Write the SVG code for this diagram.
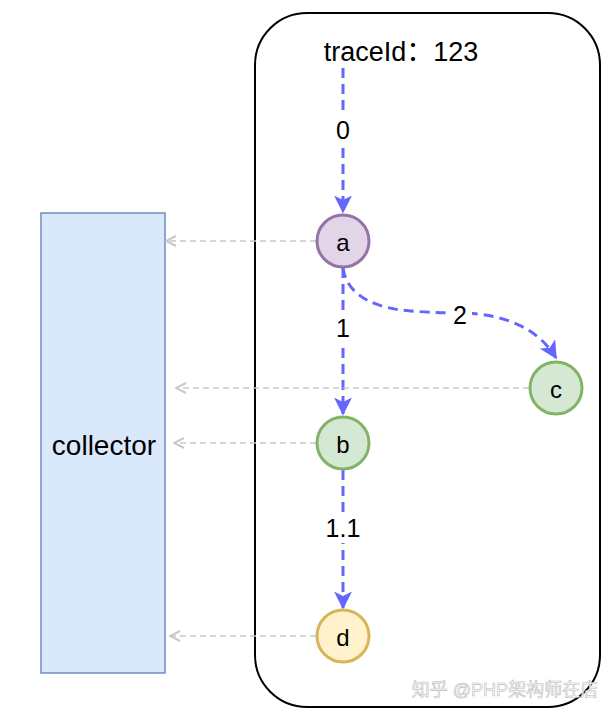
<svg xmlns="http://www.w3.org/2000/svg" width="608" height="716" viewBox="0 0 608 716">
<style>
text{font-family:"Liberation Sans","Noto Sans CJK SC",Arial,sans-serif;fill:#000;text-anchor:middle;dominant-baseline:central}
.node{stroke-width:3}
.blue{fill:none;stroke:#6666ff;stroke-width:3;stroke-dasharray:10 6;marker-end:url(#ba)}
.grey{fill:none;stroke:#c8c8c8;stroke-width:1.5;stroke-dasharray:6 4;marker-end:url(#ga)}
.lbl{font-size:25px}
.bg{fill:#fff}
</style>
<defs>
<marker id="ba" viewBox="0 0 12 12" refX="11" refY="6" markerWidth="6" markerHeight="6" orient="auto" markerUnits="strokeWidth">
<path d="M0,0 L12,6 L0,12 L3,6 Z" fill="#6666ff"/>
</marker>
<marker id="ga" viewBox="0 0 12 12" refX="11" refY="6" markerWidth="8" markerHeight="8" orient="auto" markerUnits="strokeWidth">
<path d="M1,1 L11,6 L1,11" fill="none" stroke="#c8c8c8" stroke-width="2"/>
</marker>
</defs>
<rect width="608" height="716" fill="#fff"/>
<g id="container">
<rect x="255" y="13" width="345" height="694" rx="52" ry="52" fill="#fff" stroke="#000" stroke-width="2"/>
</g>
<g id="collector">
<rect x="41" y="213" width="124" height="460" fill="#dae8fc" stroke="#6c8ebf" stroke-width="1.5"/>
<text x="104" y="445" font-size="28">collector</text>
</g>
<g id="traceId">
<text x="401" y="52" font-size="27">traceId：123</text>
</g>
<g id="connectors">
<path class="blue" d="M343,68 L343,212"/>
<path class="blue" d="M343,268 L343,414"/>
<path class="blue" d="M343,268 Q348,302 400,310 Q430,313 462,313 Q530,315 556,358"/>
<path class="blue" d="M343,470 L343,608"/>
<path class="grey" d="M316,241 L166,241"/>
<path class="grey" d="M529,388 L176,388"/>
<path class="grey" d="M316,443 L174,443"/>
<path class="grey" d="M316,636 L170,636"/>
<rect class="bg" x="332" y="115" width="22" height="30"/>
<text class="lbl" x="343" y="130">0</text>
<rect class="bg" x="332" y="313" width="22" height="30"/>
<text class="lbl" x="343" y="328">1</text>
<rect class="bg" x="448" y="300" width="24" height="30"/>
<text class="lbl" x="460" y="315">2</text>
<rect class="bg" x="322" y="513" width="42" height="30"/>
<text class="lbl" x="343" y="528">1.1</text>
</g>
<g id="a">
<circle class="node" cx="343" cy="241" r="26" fill="#e1d5e7" stroke="#9673a6"/>
<text x="343" y="242" font-size="24">a</text>
</g>
<g id="b">
<circle class="node" cx="343" cy="443" r="26" fill="#d5e8d4" stroke="#82b366"/>
<text x="343" y="444" font-size="24">b</text>
</g>
<g id="c">
<circle class="node" cx="556" cy="388" r="26" fill="#d5e8d4" stroke="#82b366"/>
<text x="556" y="389" font-size="24">c</text>
</g>
<g id="d">
<circle class="node" cx="343" cy="636" r="26" fill="#fff2cc" stroke="#d6b656"/>
<text x="343" y="637" font-size="24">d</text>
</g>
<g id="watermark">
<text x="505" y="690" font-size="18" style="fill:#ffffff;stroke:#bbbbbb;stroke-width:0.6">知乎 @PHP架构师在店</text>
</g>
</svg>
